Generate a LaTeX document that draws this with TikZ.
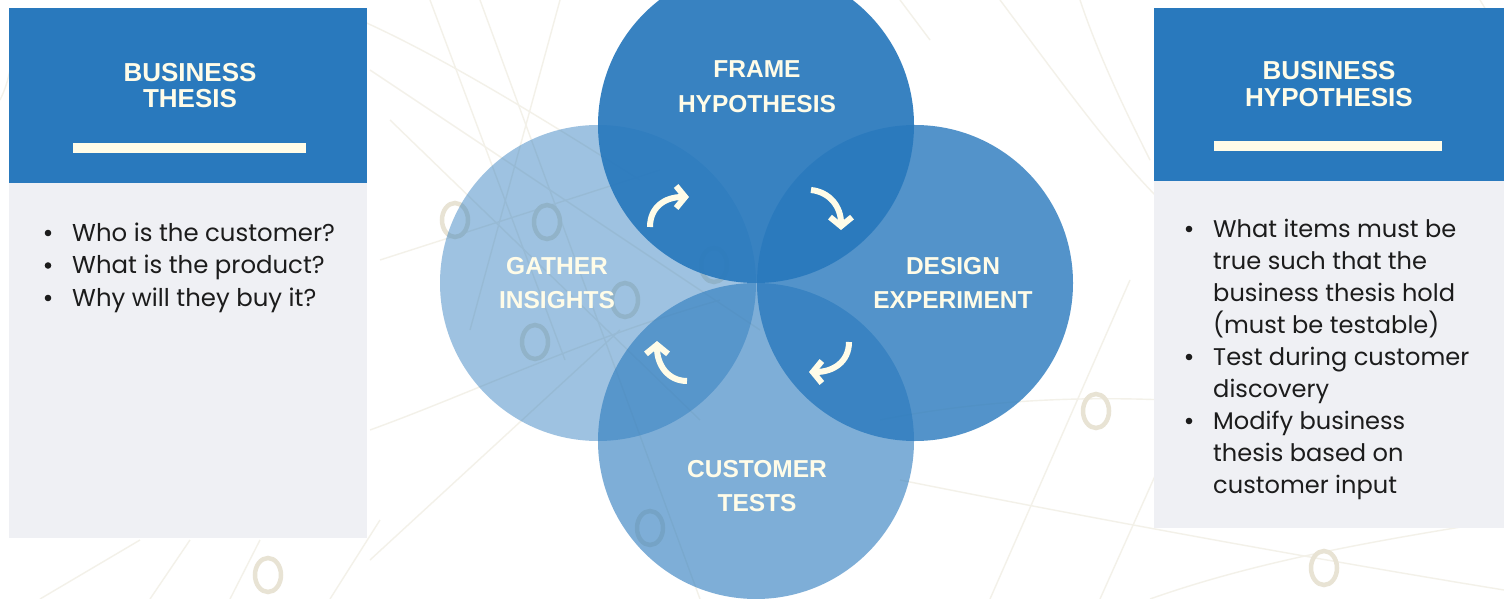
\documentclass[tikz,border=0pt]{standalone}
\usepackage{fontspec}
\setmainfont{Poppins}
\newfontfamily\headfont{Liberation Sans}
\newfontfamily\bodyfont{Poppins}
\usetikzlibrary{arrows.meta}
\definecolor{hdrblue}{HTML}{2979BD}
\definecolor{panelgray}{HTML}{EFF0F4}
\definecolor{cream}{HTML}{FFFCE8}
\definecolor{ringbeige}{HTML}{E8E3D4}
\definecolor{linebeige}{HTML}{F3F1E9}
\definecolor{bodyblack}{HTML}{1C1C1C}
\begin{document}
\begin{tikzpicture}[x=1pt,y=-1pt,
  bgline/.style={draw=linebeige, line width=1.4pt},
  ring/.style={draw=ringbeige, line width=4.5pt},
  panelhead/.style={fill=hdrblue, draw=none, inner sep=0pt, outer sep=0pt, anchor=north west},
  panelbody/.style={fill=panelgray, draw=none, inner sep=0pt, outer sep=0pt, anchor=north west},
  bar/.style={fill=cream, draw=none, inner sep=0pt, outer sep=0pt, anchor=north west},
  headtext/.style={text=cream, font=\headfont\bfseries\fontsize{26}{26.5}\selectfont, align=center, inner sep=0pt},
  circ/.style={circle, draw=none, fill=hdrblue, minimum size=316pt, inner sep=0pt},
  circtext/.style={text=cream, font=\headfont\bfseries\fontsize{24.5}{34.5}\selectfont, align=center, inner sep=0pt},
  bodytextl/.style={text=bodyblack, font=\bodyfont\fontsize{24.4}{26}\selectfont, anchor=base west, inner sep=0pt},
  bodytextr/.style={text=bodyblack, font=\bodyfont\fontsize{24.1}{26}\selectfont, anchor=base west, inner sep=0pt},
  cyclearrow/.style={draw=cream, line width=6pt, -{Straight Barb[length=9pt,width=22pt]}}
]
\useasboundingbox (0,0) rectangle (1504,599);
\clip (0,0) rectangle (1504,599);
\fill[white] (0,0) rectangle (1504,599);

% faint background network
\draw[bgline] (360,20) .. controls (450,60) and (560,130) .. (640,180);
\draw[bgline] (370,70) -- (760,330);
\draw[bgline] (380,260) -- (660,170);
\draw[bgline] (370,430) .. controls (480,390) and (580,340) .. (720,300);
\draw[bgline] (430,0) -- (565,360);
\draw[bgline] (480,0) -- (700,599);
\draw[bgline] (390,120) -- (700,420);
\draw[bgline] (370,560) -- (620,330);
\draw[bgline] (560,0) -- (470,330);
\draw[bgline] (880,420) .. controls (1080,380) and (1300,400) .. (1504,450);
\draw[bgline] (900,480) .. controls (1100,520) and (1320,560) .. (1504,590);
\draw[bgline] (990,599) -- (1130,280);
\draw[bgline] (1100,599) -- (1180,420);
\draw[bgline] (1150,599) .. controls (1260,560) and (1380,540) .. (1504,520);
\draw[bgline] (1000,0) .. controls (1060,80) and (1110,150) .. (1160,200);
\draw[bgline] (1080,0) .. controls (1100,60) and (1130,120) .. (1150,160);
\draw[bgline] (40,599) -- (140,540);
\draw[bgline] (150,599) -- (190,540);
\draw[bgline] (230,599) -- (260,540);
\draw[bgline] (330,599) -- (380,520);
\draw[bgline] (0,100) .. controls (5,90) and (8,80) .. (10,70);
\draw[bgline] (900,0) -- (930,40);
\draw[bgline] (1480,0) -- (1504,40);
\draw[ring] (455,220) ellipse [x radius=13, y radius=17];
\draw[ring] (547,222) ellipse [x radius=13, y radius=17];
\draw[ring] (535,342) ellipse [x radius=13, y radius=17];
\draw[ring] (625,300) ellipse [x radius=13, y radius=17];
\draw[ring] (714,265) ellipse [x radius=13, y radius=17];
\draw[ring] (650,528) ellipse [x radius=13, y radius=17];
\draw[ring] (1096,411) ellipse [x radius=13, y radius=17];
\draw[ring] (1324,568) ellipse [x radius=13, y radius=17];
\draw[ring] (268,575) ellipse [x radius=13, y radius=17];

% left panel
\node[panelhead, minimum width=358pt, minimum height=175pt] (lhead) at (9,8) {};
\node[panelbody, minimum width=358pt, minimum height=355pt] (lbody) at (9,183) {};
\node[bar, minimum width=233pt, minimum height=10pt] (lbar) at (73,143) {};
\node[headtext] (lhtext) at (190,85.5) {BUSINESS\\THESIS};

% right panel
\node[panelhead, minimum width=350pt, minimum height=173pt] (rhead) at (1154,8) {};
\node[panelbody, minimum width=350pt, minimum height=347pt] (rbody) at (1154,181) {};
\node[bar, minimum width=228pt, minimum height=10pt] (rbar) at (1214,141) {};
\node[headtext] (rhtext) at (1329,84) {BUSINESS\\HYPOTHESIS};

% left bullets
\foreach \t/\y [count=\i] in {Who is the customer?/241, What is the product?/273.5, Why will they buy it?/306}{
  \node[bodytextl] (lt\i) at (72,\y) {\t};
}
\fill[bodyblack] (48,233) circle (3.3);
\fill[bodyblack] (48,265.5) circle (3.3);
\fill[bodyblack] (48,298) circle (3.3);

% right bullets
\foreach \t/\y [count=\i] in {What items must be/237, true such that the/269, business thesis hold/301, {(must be testable)}/333, Test during customer/365, discovery/397, Modify business/429, thesis based on/461, customer input/493}{
  \node[bodytextr] (rt\i) at (1213,\y) {\t};
}
\fill[bodyblack] (1189,229) circle (3.3);
\fill[bodyblack] (1189,357) circle (3.3);
\fill[bodyblack] (1189,421) circle (3.3);

% circles
\node[circ, fill opacity=0.45] (gather) at (598,283) {};
\node[circ, fill opacity=0.6] (customer) at (756,441) {};
\node[circ, fill opacity=0.8] (design) at (915,283) {};
\node[circ, fill opacity=0.93] (frame) at (756,125) {};

\node[circtext] (frametxt) at (757,86.5) {FRAME\\HYPOTHESIS};
\node[circtext] (gathertxt) at (557,283) {GATHER\\INSIGHTS};
\node[circtext] (designtxt) at (953,283) {DESIGN\\EXPERIMENT};
\node[circtext] (customertxt) at (757,486) {CUSTOMER\\TESTS};

% cycle arrows
\coordinate (a1s) at (650,227);
\coordinate (a1e) at (689,197);
\coordinate (a2s) at (811,190);
\coordinate (a2e) at (841,230);
\coordinate (a3s) at (849,342);
\coordinate (a3e) at (809,372);
\coordinate (a4s) at (687,381);
\coordinate (a4e) at (657,341);
\draw[cyclearrow] (a1s) .. controls (650,207) and (665,197) .. (a1e);
\draw[cyclearrow] (a2s) .. controls (830,192) and (841,207) .. (a2e);
\draw[cyclearrow] (a3s) .. controls (849,362) and (833,372) .. (a3e);
\draw[cyclearrow] (a4s) .. controls (668,381) and (657,365) .. (a4e);
\end{tikzpicture}
\end{document}
